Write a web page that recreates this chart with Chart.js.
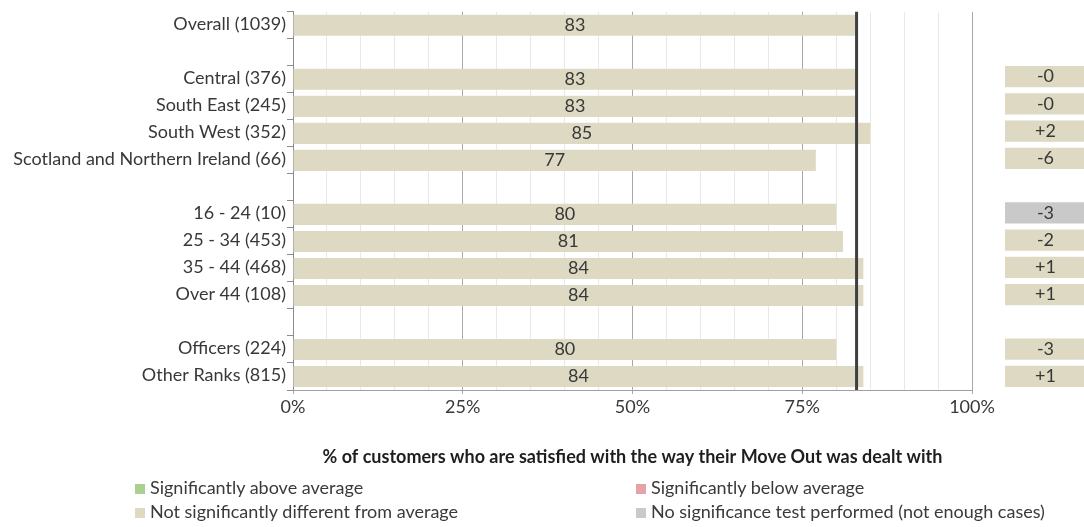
<!DOCTYPE html>
<html>
<head>
<meta charset="utf-8">
<script src="https://cdn.jsdelivr.net/npm/chart.js@4/dist/chart.umd.min.js"></script>
<style>
  html, body { margin: 0; padding: 0; background: #fff; }
  body { width: 1084px; height: 527px; overflow: hidden; position: relative; font-family: Lato, sans-serif; }
  #main { position: absolute; left: 0; top: 0; }
  #diff { position: absolute; left: 1005px; top: 0; }
  .key { position: absolute; font-size: 18px; line-height: 20px; color: #3a3a3a; white-space: nowrap; }
  .key i { display: inline-block; width: 10px; height: 10px; margin-right: 5px; vertical-align: 0px; }
</style>
</head>
<body>
<canvas id="main" width="1000" height="527"></canvas>
<canvas id="diff" width="81" height="527"></canvas>
<div id="keys"></div>
<script>
// Rows of the chart; empty labels are spacer rows between groups
const categories = [
  'Overall (1039)', '',
  'Central (376)', 'South East (245)', 'South West (352)', 'Scotland and Northern Ireland (66)', '',
  '16 - 24 (10)', '25 - 34 (453)', '35 - 44 (468)', 'Over 44 (108)', '',
  'Officers (224)', 'Other Ranks (815)'
];
// % satisfied per row
const satisfied = [83, null, 83, 83, 85, 77, null, 80, 81, 84, 84, null, 80, 84];
// overall average, shown as the vertical reference line
const average = 83;
// difference from the average, as printed
const differences = [null, null, '-0', '-0', '+2', '-6', null, '-3', '-2', '+1', '+1', null, '-3', '+1'];
// significance test outcome per row
const significance = [null, null, 'same', 'same', 'same', 'same', null, 'untested', 'same', 'same', 'same', null, 'same', 'same'];
// labelled x ticks (grid every 5%)
const xTickLabels = [0, 25, 50, 75, 100];

const axisTitle = '% of customers who are satisfied with the way their Move Out was dealt with';
const legendKeys = ['above', 'below', 'same', 'untested'];
const legendText = {
  above: 'Significantly above average',
  below: 'Significantly below average',
  same: 'Not significantly different from average',
  untested: 'No significance test performed (not enough cases)'
};
const sigColors = { above: '#a9d08e', below: '#e4a3a6', same: '#ddd9c3', untested: '#c9c9c9' };

const FONT = 'Lato';
const SIZE = 18;
const TEXT = '#383838';

const avgLine = {
  id: 'avgLine',
  afterDatasetsDraw(chart) {
    const { ctx, chartArea, scales } = chart;
    const x = scales.x.getPixelForValue(average);
    ctx.save();
    ctx.strokeStyle = '#3f3f3f';
    ctx.lineWidth = 3;
    ctx.beginPath();
    ctx.moveTo(x, chartArea.top);
    ctx.lineTo(x, chartArea.bottom);
    ctx.stroke();
    ctx.restore();
  }
};

function centreText(getText) {
  return {
    id: 'centreText',
    afterDatasetsDraw(chart) {
      const { ctx } = chart;
      const meta = chart.getDatasetMeta(0);
      ctx.save();
      ctx.font = SIZE + 'px ' + FONT;
      ctx.fillStyle = TEXT;
      ctx.textAlign = 'center';
      ctx.textBaseline = 'middle';
      meta.data.forEach((bar, i) => {
        const t = getText(i);
        if (t === null || t === undefined) return;
        ctx.fillText(t, (bar.x + bar.base) / 2, bar.y);
      });
      ctx.restore();
    }
  };
}

new Chart(document.getElementById('main'), {
  type: 'bar',
  data: {
    labels: categories,
    datasets: [{
      data: satisfied,
      backgroundColor: sigColors.same,
      barPercentage: 0.78,
      categoryPercentage: 1.0
    }]
  },
  options: {
    indexAxis: 'y',
    responsive: false,
    animation: false,
    events: [],
    layout: { padding: { top: 8.5, right: 28, bottom: 0, left: 0 } },
    plugins: { legend: { display: false }, tooltip: { enabled: false } },
    scales: {
      y: {
        afterFit(scale) { scale.width = 293; },
        grid: { offset: true, drawOnChartArea: false, drawTicks: true, tickLength: 6, color: '#8c8c8c' },
        border: { display: true, color: '#8c8c8c' },
        ticks: { color: TEXT, font: { family: FONT, size: SIZE }, padding: 1, labelOffset: -1.5 }
      },
      x: {
        min: 0, max: 100,
        afterFit(scale) { scale.height = 137; },
        grid: {
          color: c => (xTickLabels.includes(c.tick.value) ? '#a8a8a8' : '#e8e8e8'),
          tickColor: c => (xTickLabels.includes(c.tick.value) ? '#a8a8a8' : 'rgba(0,0,0,0)'),
          tickLength: 4
        },
        border: { display: true, color: '#a0a0a0' },
        ticks: {
          stepSize: 5, autoSkip: false, maxRotation: 0, padding: 2,
          color: TEXT, font: { family: FONT, size: SIZE },
          callback: v => (xTickLabels.includes(v) ? v + '%' : '')
        },
        title: {
          display: true, text: axisTitle, color: '#1e1e1e',
          font: { family: FONT, size: SIZE, weight: 'bold' },
          padding: { top: 0, bottom: 59.5 }
        }
      }
    }
  },
  plugins: [avgLine, centreText(i => satisfied[i])]
});

// Difference column: one full-width box per row that has a difference
new Chart(document.getElementById('diff'), {
  type: 'bar',
  data: {
    labels: categories,
    datasets: [{
      data: differences.map(d => (d === null ? null : 1)),
      backgroundColor: significance.map(s => (s ? sigColors[s] : 'rgba(0,0,0,0)')),
      barPercentage: 0.78,
      categoryPercentage: 1.0
    }]
  },
  options: {
    indexAxis: 'y',
    responsive: false,
    animation: false,
    events: [],
    layout: { padding: { top: 8.5, right: 0, bottom: 137, left: 0 } },
    plugins: { legend: { display: false }, tooltip: { enabled: false } },
    scales: {
      x: { display: false, min: 0, max: 1 },
      y: { display: false }
    }
  },
  plugins: [centreText(i => differences[i])]
});

// Key below the chart: two columns
const keyPos = {
  above: [135, 477], below: [636, 477],
  same: [135, 501], untested: [636, 501]
};
const keys = document.getElementById('keys');
legendKeys.forEach(k => {
  const d = document.createElement('div');
  d.className = 'key';
  d.style.left = keyPos[k][0] + 'px';
  d.style.top = keyPos[k][1] + 'px';
  const sw = document.createElement('i');
  sw.style.background = sigColors[k];
  d.appendChild(sw);
  d.appendChild(document.createTextNode(legendText[k]));
  keys.appendChild(d);
});
</script>
</body>
</html>
